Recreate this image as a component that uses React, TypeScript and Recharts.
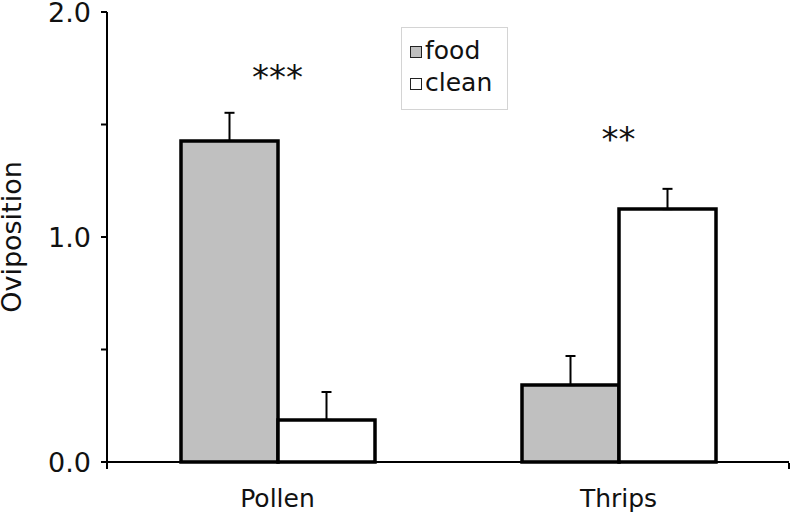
import { BarChart, Bar, XAxis, YAxis, ErrorBar, Legend, ReferenceDot } from "recharts";

const categories = ["Pollen", "Thrips"];
const food = [1.427, 0.342];
const foodErr = [0.125, 0.129];
const clean = [0.187, 1.124];
const cleanErr = [0.124, 0.09];
const sigLabels = ["***", "**"];
const sigY = [1.71, 1.435];
const yTicks = [0, 0.5, 1, 1.5, 2];
const boundaryTicks = [0, 1, 2];

const FONT = "'DejaVu Sans', Verdana, sans-serif";

const data = categories.map((name, i) => ({
  name,
  food: food[i],
  foodErr: [0, foodErr[i]],
  clean: clean[i],
  cleanErr: [0, cleanErr[i]],
}));

function LegendBox() {
  const items = [
    { label: "food", fill: "#c0c0c0" },
    { label: "clean", fill: "#ffffff" },
  ];
  return (
    <div style={{ border: "1px solid #d4d4d4", width: 107, height: 83, boxSizing: "border-box", padding: "6px 0 0 8px", fontFamily: FONT, fontSize: 25, color: "#111", background: "#fff" }}>
      {items.map((it) => (
        <div key={it.label} style={{ display: "flex", alignItems: "center", height: 32 }}>
          <span style={{ width: 10, height: 10, border: "1px solid #222", background: it.fill, display: "inline-block", marginRight: 3, marginTop: 4 }} />
          <span>{it.label}</span>
        </div>
      ))}
    </div>
  );
}

function YLabel(props: any) {
  const vb = props.viewBox || {};
  const cy = (vb.y ?? 12) + (vb.height ?? 450) / 2;
  return (
    <text x={21} y={cy} transform={`rotate(-90 21 ${cy})`} textAnchor="middle" fontFamily={FONT} fontSize={27} fill="#111">
      Oviposition
    </text>
  );
}

export default function App() {
  return (
    <div style={{ position: "absolute", left: 0, top: 0, background: "#fff" }}>
      <BarChart width={791} height={515} data={data} margin={{ top: 12, right: 2, bottom: 0, left: 0 }} barSize={97} barGap={0}>
        {/* category axis: baseline + labels */}
        <XAxis dataKey="name" height={1} axisLine={{ stroke: "#000", strokeWidth: 2 }} tickLine={false} tickSize={6} tickMargin={21}
          tick={{ fontFamily: FONT, fontSize: 25, fill: "#111" }} />
        {/* boundary ticks between categories */}
        <XAxis xAxisId="grid" type="number" domain={[0, 2]} ticks={boundaryTicks} height={52} interval={0}
          tickFormatter={() => ""} axisLine={false} tickLine={{ stroke: "#000", strokeWidth: 2 }} tickSize={6} allowDataOverflow />
        <YAxis domain={[0, 2]} ticks={yTicks} width={107} tickSize={6} tickMargin={10} interval={0}
          tickFormatter={(v: number) => (v % 1 === 0 ? v.toFixed(1) : "")}
          axisLine={{ stroke: "#000", strokeWidth: 2 }} tickLine={{ stroke: "#000", strokeWidth: 2 }}
          tick={{ fontFamily: FONT, fontSize: 27, fill: "#111" }}
          label={{ content: YLabel }} />
        <Legend content={<LegendBox />} layout="horizontal" verticalAlign="middle" align="center"
          wrapperStyle={{ position: "absolute", left: 401, top: 27, width: 107 }} />
        <Bar dataKey="food" fill="#c0c0c0" stroke="#000" strokeWidth={3.5} isAnimationActive={false}>
          <ErrorBar dataKey="foodErr" width={5} stroke="#000" strokeWidth={2} direction="y" isAnimationActive={false} />
        </Bar>
        <Bar dataKey="clean" fill="#ffffff" stroke="#000" strokeWidth={3.5} isAnimationActive={false}>
          <ErrorBar dataKey="cleanErr" width={5} stroke="#000" strokeWidth={2} direction="y" isAnimationActive={false} />
        </Bar>
        {categories.map((c, i) => (
          <ReferenceDot key={c} x={c} y={sigY[i]} r={0} fill="none" stroke="none"
            label={{ value: sigLabels[i], position: "center", fontSize: 34, fontFamily: FONT, fill: "#111" }} />
        ))}
      </BarChart>
    </div>
  );
}
